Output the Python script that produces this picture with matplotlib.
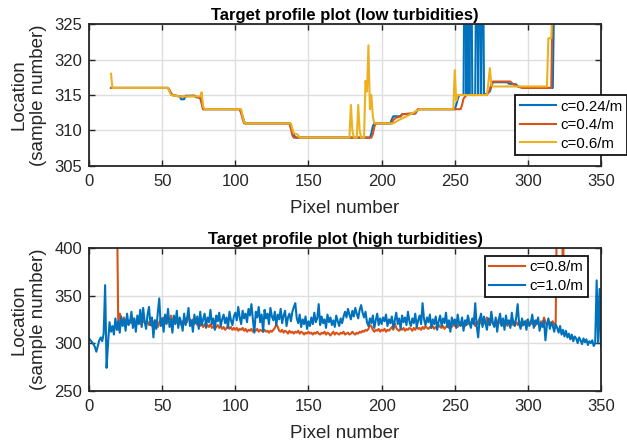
import matplotlib
matplotlib.use("Agg")
import matplotlib.pyplot as plt
import numpy as np

plt.rcParams['font.family'] = ['Liberation Sans', 'DejaVu Sans']

BLUE = '#0072BD'
RED = '#D95319'
YELLOW = '#EDB120'

# --- low turbidities: step-like profiles (vertex lists) ---
x_024 = [15, 54, 55, 56, 57, 62, 63, 65, 66, 72, 73, 76, 77, 78, 103, 104, 105, 106, 107,
         137, 138, 139, 140, 141, 192, 193, 194, 195, 206, 207, 208, 213, 214, 223, 224, 225,
         250, 251, 252, 253, 256, 257, 258, 259, 260, 261, 262, 263, 264, 265, 266, 267, 268,
         269, 270, 272, 274, 275, 276, 286, 287, 292, 293, 296, 297, 317, 318]
y_024 = [316, 316, 315.7, 315.2, 315, 314.8, 314.4, 314.4, 314.9, 314.9, 314.7, 314.6, 314, 313,
         313, 312.6, 312, 311.3, 311, 311, 310.6, 310, 309.4, 309, 309, 309.6, 310.6, 311, 311,
         311.6, 312, 312, 312.3, 312.4, 312.7, 313, 313, 313.6, 314.4, 315, 315, 345, 315, 345,
         315, 345, 315, 315, 315, 345, 315, 345, 315, 345, 315, 315.2, 315.5, 316.2, 316.8,
         316.8, 316.6, 316.5, 316.2, 316.1, 316, 316, 330]

x_04 = [15, 54, 55, 57, 62, 66, 72, 76, 77, 78, 103, 104, 105, 106, 137, 138, 139, 140, 193,
        194, 195, 196, 207, 208, 210, 213, 214, 223, 224, 225, 254, 255, 256, 258, 272, 274,
        275, 276, 288, 290, 293, 296, 316, 317]
y_04 = [316, 316, 315.6, 315, 314.8, 314.8, 314.9, 314.6, 313.8, 313, 313, 312.4, 311.6, 311,
        311, 310.2, 309.3, 309, 309, 309.5, 310.5, 311, 311, 311.5, 311.8, 312, 312.3, 312.4,
        312.8, 313, 313, 313.6, 314.5, 315, 315, 315.8, 316.5, 316.9, 316.9, 316.5, 316.2,
        316, 316, 330]

x_06 = [15, 16, 54, 55, 56, 62, 76, 77, 78, 79, 104, 105, 106, 107, 138, 139, 140, 142, 143,
        144, 178, 179, 180, 181, 183, 184, 185, 186, 188, 189, 190, 191, 192, 193, 194, 195,
        208, 212, 216, 220, 224, 226, 249, 250, 251, 252, 272, 273, 274, 275, 276, 313, 314,
        316, 317]
y_06 = [318, 316, 316, 315.5, 315, 314.8, 314.8, 315.4, 313.4, 313, 313, 312, 311.2, 311, 311,
        310.2, 309.6, 309.5, 309.3, 309, 309, 313.6, 310, 309, 309, 313.6, 310, 309, 309, 317,
        315.5, 322, 313, 315, 312, 311, 311, 311.5, 311.9, 312.3, 312.8, 313, 313, 318.5, 314.2,
        315, 315, 316.8, 318.8, 316.4, 316.2, 316.2, 323, 323, 330]

# --- high turbidities: one value per pixel ---
x_10 = np.arange(0, 351)
y_10 = [305, 303, 301, 299, 296, 291, 297, 303, 306, 302,
        310, 361, 274, 300, 322, 312, 318, 309, 326, 314,
        323, 311, 328, 318, 325, 313, 331, 319, 322, 333,
        316, 326, 312, 329, 320, 335, 317, 337, 323, 315,
        330, 338, 319, 327, 306, 324, 315, 332, 347, 318,
        326, 312, 330, 321, 336, 317, 325, 311, 329, 320,
        334, 316, 327, 322, 313, 331, 319, 326, 337, 318,
        324, 312, 330, 321, 328, 315, 333, 319, 325, 331,
        317, 327, 322, 335, 320, 326, 314, 329, 323, 332,
        318, 325, 330, 321, 327, 316, 333, 324, 319, 328,
        332, 324, 338, 327, 320, 334, 326, 331, 322, 336,
        329, 341, 325, 311, 333, 327, 338, 322, 330, 312,
        335, 326, 331, 320, 337, 328, 324, 333, 319, 330,
        325, 336, 321, 329, 334, 318, 327, 331, 323, 333,
        338, 342, 326, 321, 330, 317, 325, 320, 328, 315,
        323, 318, 327, 320, 332, 322, 326, 341, 319, 328,
        321, 325, 316, 330, 322, 327, 319, 324, 317, 329,
        323, 318, 326, 321, 328, 333, 327, 336, 330, 325,
        334, 328, 337, 331, 326, 335, 340, 332, 327, 333,
        322, 318, 326, 321, 329, 316, 324, 331, 319, 326,
        320, 327, 323, 330, 318, 325, 321, 328, 316, 324,
        332, 320, 326, 315, 329, 322, 327, 319, 333, 323,
        318, 326, 321, 331, 317, 324, 329, 320, 342, 325,
        319, 327, 322, 330, 316, 325, 320, 328, 314, 323,
        329, 318, 326, 321, 332, 317, 324, 312, 327, 320,
        325, 316, 330, 321, 318, 327, 313, 324, 319, 329,
        322, 316, 326, 320, 342, 318, 306, 325, 331, 317,
        328, 321, 314, 326, 319, 333, 322, 317, 327, 312,
        324, 331, 318, 326, 314, 329, 320, 324, 316, 332,
        321, 318, 327, 341, 320, 315, 326, 319, 323, 314,
        325, 318, 322, 330, 316, 324, 320, 327, 313, 321,
        317, 324, 303, 319, 326, 315, 322, 318, 312, 320,
        316, 311, 318, 309, 314, 307, 313, 306, 310, 304,
        309, 302, 307, 305, 300, 306, 303, 299, 305, 301,
        304, 298, 302, 300, 303, 297, 300, 366, 300, 357,
        295]

x_08 = np.arange(19, 326)
y_08 = [460,
        314, 331, 326, 323, 327, 322, 325, 320, 324, 321,
        326, 322, 320, 325, 321, 323, 319, 324, 322, 320,
        323, 319, 322, 318, 321, 324, 320, 317, 322, 325,
        321, 327, 323, 320, 326, 322, 329, 324, 321, 325,
        322, 320, 324, 319, 323, 321, 326, 322, 329, 324,
        321, 325, 320, 323, 319, 322, 318, 321, 317, 320,
        316, 319, 317, 320, 316, 318, 315, 317, 319, 316,
        318, 315, 317, 314, 316, 318, 315, 317, 314, 316,
        314, 316, 313, 315, 314, 316, 313, 315, 312, 314,
        313, 315, 312, 314, 313, 315, 312, 314, 313, 312,
        314, 312, 313, 311, 313, 312, 314, 316, 320, 317,
        313, 312, 314, 311, 313, 312, 310, 313, 311, 312,
        310, 312, 311, 313, 310, 312, 311, 309, 311, 310,
        312, 310, 311, 309, 311, 310, 312, 310, 309, 311,
        310, 312, 309, 311, 310, 308, 310, 312, 309, 311,
        310, 309, 311, 310, 312, 309, 310, 311, 309, 310,
        312, 310, 309, 311, 310, 312, 311, 313, 312, 314,
        313, 315, 319, 318, 314, 312, 314, 313, 315, 312,
        314, 313, 315, 312, 314, 313, 315, 317, 314, 321,
        316, 314, 313, 315, 314, 316, 313, 315, 314, 316,
        315, 313, 316, 314, 317, 315, 316, 314, 317, 315,
        318, 316, 315, 317, 316, 318, 315, 317, 316, 319,
        317, 316, 318, 315, 317, 319, 316, 318, 317, 320,
        318, 321, 317, 320, 322, 319, 321, 318, 324, 320,
        322, 319, 325, 321, 318, 323, 320, 326, 321, 319,
        323, 320, 327, 322, 319, 324, 321, 318, 323, 320,
        325, 321, 319, 324, 320, 322, 318, 323, 321, 319,
        324, 320, 322, 319, 323, 321, 318, 322, 320, 324,
        321, 319, 323, 320, 322, 318, 324, 321, 319, 323,
        320, 327, 322, 319, 324, 321, 320, 323, 319, 322,
        470, 470, 470, 470, 365, 470]

DARK = '#262626'


def style_axes(ax, ylim, yticks):
    ax.set_xlim(0, 350)
    ax.set_ylim(*ylim)
    ax.set_xticks(np.arange(0, 351, 50))
    ax.set_yticks(yticks)
    ax.grid(True, color='#dedede', linewidth=1.0)
    ax.set_axisbelow(True)
    ax.tick_params(direction='in', top=True, right=True, length=4, width=1.0,
                   labelsize=12, colors=DARK)
    ax.tick_params(axis='x', pad=6)
    ax.tick_params(axis='y', pad=5)
    for s in ax.spines.values():
        s.set_linewidth(1.3)
        s.set_color(DARK)
    ax.set_xlabel('Pixel number', fontsize=13.5, color=DARK, labelpad=8)
    ax.set_ylabel('Location\n(sample number)', fontsize=13.5, color=DARK,
                  linespacing=1.25, labelpad=5)


fig = plt.figure(figsize=(6.27, 4.45), dpi=100)
ax1 = fig.add_axes([0.142, 0.627, 0.8166, 0.319])
ax2 = fig.add_axes([0.142, 0.122, 0.8166, 0.3207])

ax1.plot(x_024, y_024, color=BLUE, lw=1.5, label='c=0.24/m')
ax1.plot(x_04, y_04, color=RED, lw=1.5, label='c=0.4/m')
ax1.plot(x_06, y_06, color=YELLOW, lw=1.5, label='c=0.6/m')
style_axes(ax1, (305, 325), np.arange(305, 326, 5))
ax1.set_title('Target profile plot (low turbidities)', fontsize=12,
              fontweight='bold', pad=3)
leg1 = ax1.legend(loc='upper left', bbox_to_anchor=(0.832, 0.5), fontsize=10.8,
                  frameon=True, fancybox=False, framealpha=1, edgecolor='#111111',
                  handlelength=2.4, handletextpad=0.3, labelspacing=0.3,
                  borderpad=0.3, borderaxespad=0)
leg1.get_frame().set_linewidth(1.3)

ax2.plot(x_08, y_08, color=RED, lw=1.5, label='c=0.8/m')
ax2.plot(x_10, y_10, color=BLUE, lw=1.5, label='c=1.0/m')
style_axes(ax2, (250, 400), np.arange(250, 401, 50))
ax2.set_title('Target profile plot (high turbidities)', fontsize=12,
              fontweight='bold', pad=3)
leg2 = ax2.legend(loc='upper left', bbox_to_anchor=(0.773, 0.944), fontsize=10.8,
                  frameon=True, fancybox=False, framealpha=1, edgecolor='#111111',
                  handlelength=2.4, handletextpad=0.3, labelspacing=0.3,
                  borderpad=0.3, borderaxespad=0)
leg2.get_frame().set_linewidth(1.3)

fig.savefig('out.png', dpi=100)
